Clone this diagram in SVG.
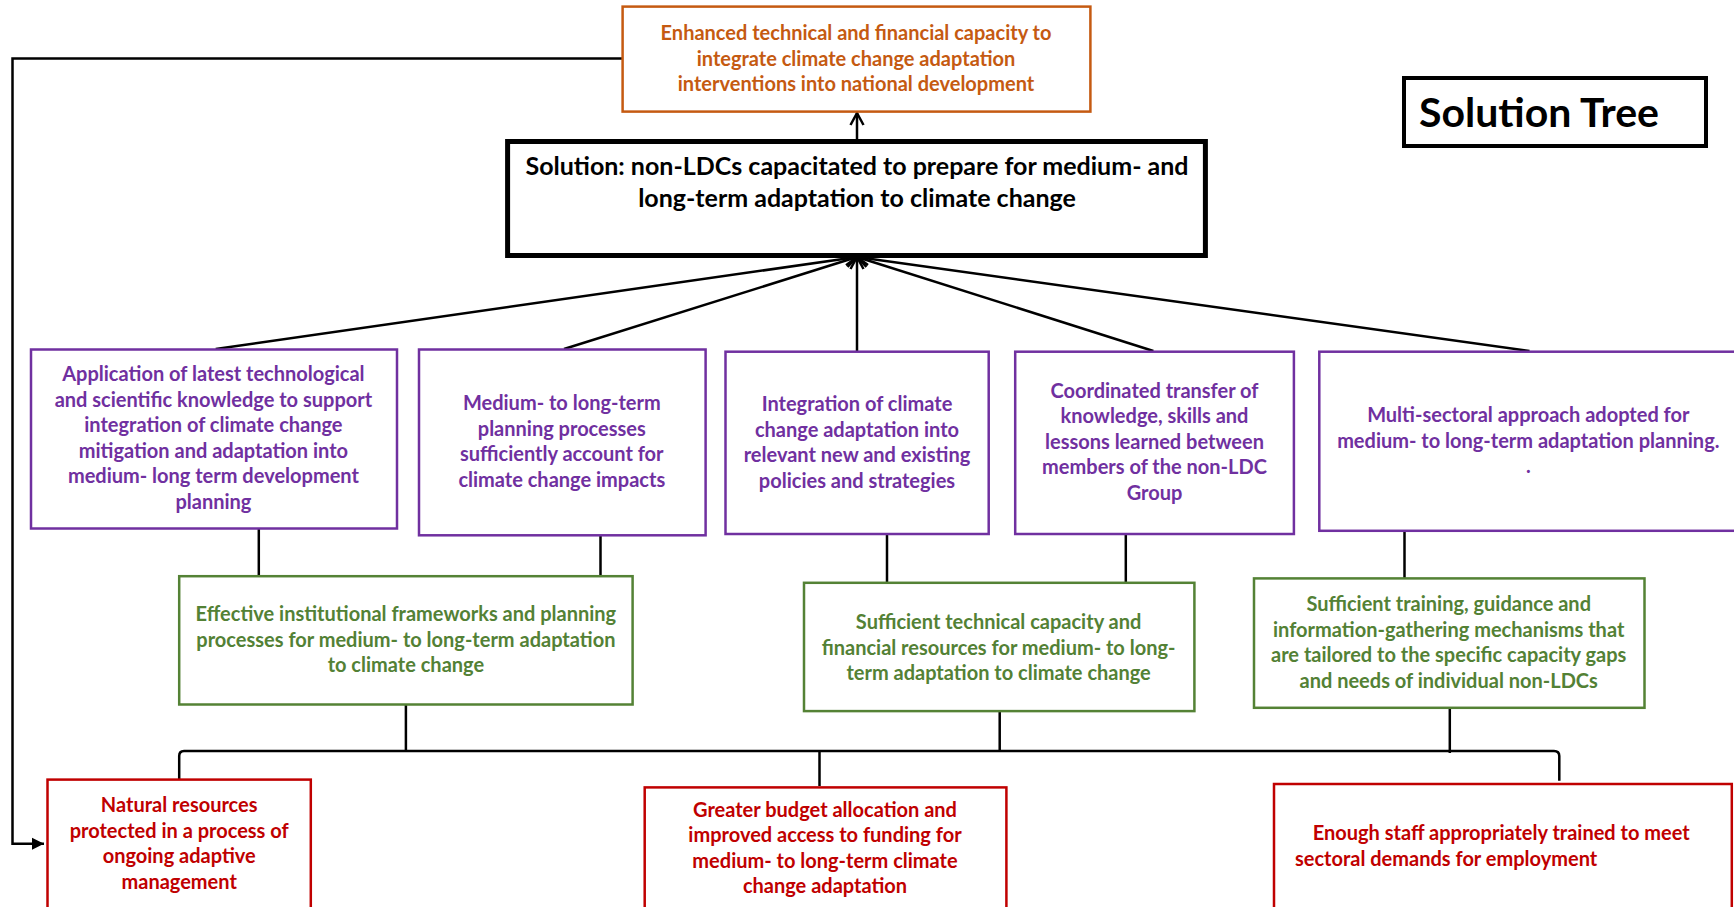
<svg xmlns="http://www.w3.org/2000/svg" width="1734" height="907" viewBox="0 0 1734 907">
<style>
text{font-family:Lato,"Open Sans","Liberation Sans",sans-serif;font-weight:bold;text-anchor:middle;font-size:20px}
.box{fill:#fff;stroke-width:2.5}
.or{stroke:#C55A11}.ort{fill:#C55A11}
.pu{stroke:#7030A0}.put{fill:#7030A0}
.gr{stroke:#548235}.grt{fill:#538135}
.rd{stroke:#C00000}.rdt{fill:#C00000}
.ln{fill:none;stroke:#000;stroke-width:2.5}
</style>
<defs>
<marker id="open" markerUnits="userSpaceOnUse" markerWidth="18" markerHeight="18" refX="14" refY="9" orient="auto">
<path d="M2,2.5 L14,9 L2,15.5" fill="none" stroke="#000" stroke-width="2.5"/>
</marker>
<marker id="fill" markerUnits="userSpaceOnUse" markerWidth="14" markerHeight="14" refX="12" refY="7" orient="auto">
<path d="M0,1 L12,7 L0,13 Z" fill="#000"/>
</marker>
</defs>
<rect width="1734" height="907" fill="#fff"/>

<g id="connectors">
<path class="ln" d="M622,58.6 H12.5 V843.8 H44" marker-end="url(#fill)"/>
<path class="ln" d="M857,139 V113" marker-end="url(#open)"/>
<path class="ln" d="M215.7,349 L857,257" marker-end="url(#open)"/>
<path class="ln" d="M564,349 L857,257" marker-end="url(#open)"/>
<path class="ln" d="M857,351 L857,257" marker-end="url(#open)"/>
<path class="ln" d="M1153.4,351 L857,257" marker-end="url(#open)"/>
<path class="ln" d="M1529.5,351 L857,257" marker-end="url(#open)"/>
<path class="ln" d="M258.8,528.6 V576.2"/>
<path class="ln" d="M600.5,535.3 V576.2"/>
<path class="ln" d="M887,534 V582.8"/>
<path class="ln" d="M1125.8,534 V582.8"/>
<path class="ln" d="M1404.5,530.8 V578.4"/>
<path class="ln" d="M405.9,704.5 V750.9"/>
<path class="ln" d="M999.7,711.1 V750.9"/>
<path class="ln" d="M1449.8,707.8 V753"/>
<path class="ln" d="M179.2,779.6 V756 Q179.2,750.9 184,750.9 H1554 Q1559.3,750.9 1559.3,756 V780.8"/>
<path class="ln" d="M819.5,750.9 V786"/>
</g>

<g id="n-impact">
<rect class="box or" x="622.6" y="6.6" width="467.8" height="105"/>
<text class="ort" x="856" y="40">Enhanced technical and financial capacity to</text>
<text class="ort" x="856" y="65.5">integrate climate change adaptation</text>
<text class="ort" x="856" y="91">interventions into national development</text>
</g>

<g id="n-solution">
<rect x="507.6" y="141.5" width="697.8" height="114" fill="#fff" stroke="#000" stroke-width="5"/>
<text x="857" y="175" style="font-size:25px">Solution: non-LDCs capacitated to prepare for medium- and</text>
<text x="857" y="207" style="font-size:25px">long-term adaptation to climate change</text>
</g>

<g id="n-title">
<rect x="1404" y="78" width="302" height="68" fill="#fff" stroke="#000" stroke-width="4"/>
<text x="1419" y="127" style="font-size:41px;text-anchor:start">Solution Tree</text>
</g>

<g id="n-p1">
<rect class="box pu" x="31" y="349.5" width="366" height="179"/>
<text class="put" x="213.4" y="381">Application of latest technological</text>
<text class="put" x="213.4" y="406.5">and scientific knowledge to support</text>
<text class="put" x="213.4" y="432">integration of climate change</text>
<text class="put" x="213.4" y="457.5">mitigation and adaptation into</text>
<text class="put" x="213.4" y="483">medium- long term development</text>
<text class="put" x="213.4" y="508.5">planning</text>
</g>

<g id="n-p2">
<rect class="box pu" x="419" y="349.5" width="286.6" height="185.8"/>
<text class="put" x="561.8" y="410">Medium- to long-term</text>
<text class="put" x="561.8" y="435.5">planning processes</text>
<text class="put" x="561.8" y="461">sufficiently account for</text>
<text class="put" x="561.8" y="486.5">climate change impacts</text>
</g>

<g id="n-p3">
<rect class="box pu" x="725.5" y="351.7" width="263.2" height="182.3"/>
<text class="put" x="857" y="411">Integration of climate</text>
<text class="put" x="857" y="436.5">change adaptation into</text>
<text class="put" x="857" y="462">relevant new and existing</text>
<text class="put" x="857" y="487.5">policies and strategies</text>
</g>

<g id="n-p4">
<rect class="box pu" x="1015.2" y="351.7" width="278.7" height="182.3"/>
<text class="put" x="1154.5" y="397.5">Coordinated transfer of</text>
<text class="put" x="1154.5" y="423">knowledge, skills and</text>
<text class="put" x="1154.5" y="448.5">lessons learned between</text>
<text class="put" x="1154.5" y="474">members of the non-LDC</text>
<text class="put" x="1154.5" y="499.5">Group</text>
</g>

<g id="n-p5">
<rect class="box pu" x="1319.3" y="351.7" width="425" height="179.1"/>
<text class="put" x="1528.3" y="422">Multi-sectoral approach adopted for</text>
<text class="put" x="1528.3" y="447.5">medium- to long-term adaptation planning.</text>
<text class="put" x="1528.3" y="473">.</text>
</g>

<g id="n-g1">
<rect class="box gr" x="179.2" y="576.2" width="453.4" height="128.3"/>
<text class="grt" x="405.9" y="621">Effective institutional frameworks and planning</text>
<text class="grt" x="405.9" y="646.5">processes for medium- to long-term adaptation</text>
<text class="grt" x="405.9" y="672">to climate change</text>
</g>

<g id="n-g2">
<rect class="box gr" x="804" y="582.8" width="390.4" height="128.3"/>
<text class="grt" x="998.6" y="629">Sufficient technical capacity and</text>
<text class="grt" x="998.6" y="654.5">financial resources for medium- to long-</text>
<text class="grt" x="998.6" y="680">term adaptation to climate change</text>
</g>

<g id="n-g3">
<rect class="box gr" x="1254" y="578.4" width="390.5" height="129.4"/>
<text class="grt" x="1448.7" y="611">Sufficient training, guidance and</text>
<text class="grt" x="1448.7" y="636.5">information-gathering mechanisms that</text>
<text class="grt" x="1448.7" y="662">are tailored to the specific capacity gaps</text>
<text class="grt" x="1448.7" y="687.5">and needs of individual non-LDCs</text>
</g>

<g id="n-r1">
<rect class="box rd" x="47.5" y="779.6" width="263.3" height="140"/>
<text class="rdt" x="179.2" y="812">Natural resources</text>
<text class="rdt" x="179.2" y="837.5">protected in a process of</text>
<text class="rdt" x="179.2" y="863">ongoing adaptive</text>
<text class="rdt" x="179.2" y="888.5">management</text>
</g>

<g id="n-r2">
<rect class="box rd" x="644.7" y="787.4" width="361.7" height="140"/>
<text class="rdt" x="825" y="816.5">Greater budget allocation and</text>
<text class="rdt" x="825" y="842">improved access to funding for</text>
<text class="rdt" x="825" y="867.5">medium- to long-term climate</text>
<text class="rdt" x="825" y="893">change adaptation</text>
</g>

<g id="n-r3">
<rect class="box rd" x="1274" y="784" width="457.8" height="140"/>
<text class="rdt" x="1312.7" y="840" style="text-anchor:start">Enough staff appropriately trained to meet</text>
<text class="rdt" x="1295" y="865.5" style="text-anchor:start">sectoral demands for employment</text>
</g>
</svg>
